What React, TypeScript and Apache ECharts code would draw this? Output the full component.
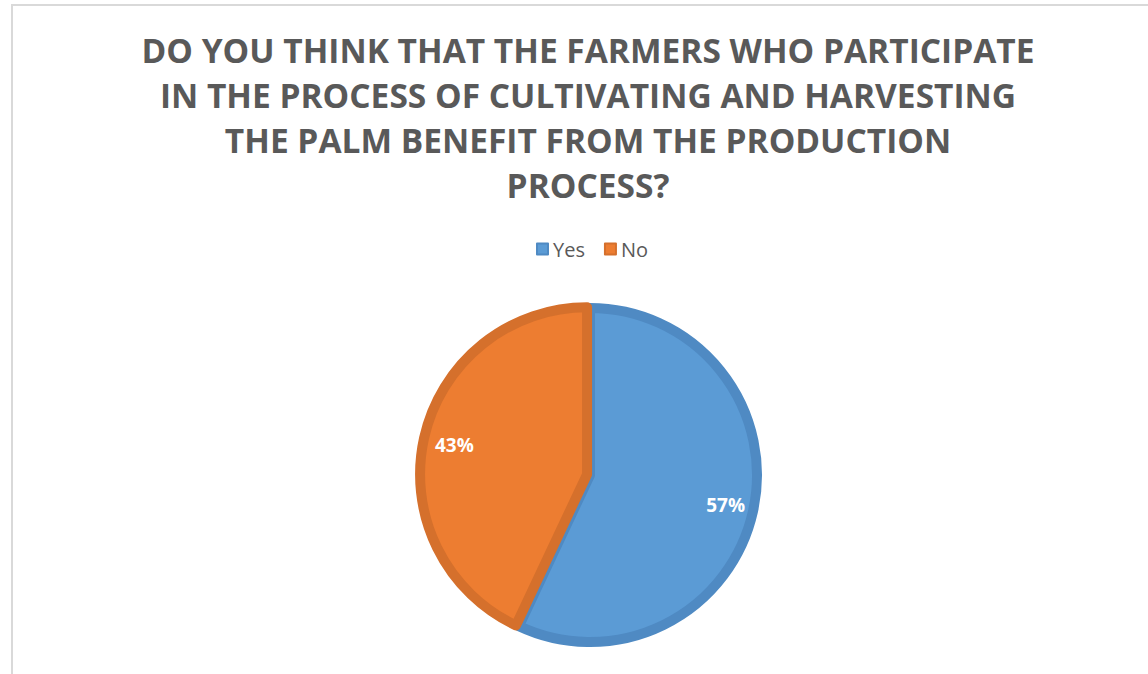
import React, { useEffect, useRef } from "react";
import * as echarts from "echarts";

const titleLines = [
  "DO YOU THINK THAT THE FARMERS WHO PARTICIPATE",
  "IN THE PROCESS OF CULTIVATING AND HARVESTING",
  "THE PALM BENEFIT FROM THE PRODUCTION",
  "PROCESS?",
];
const categories = ["Yes", "No"];
const values = [57, 43];
const fillColors = ["#5B9BD5", "#ED7D31"];
const borderColors = ["#4F8AC3", "#D5702C"];

export default function App() {
  const ref = useRef<HTMLDivElement>(null);
  useEffect(() => {
    const chart = echarts.init(ref.current!, null, { renderer: "svg" });
    const data = categories.map((name, i) => ({
      name,
      value: values[i],
      selected: name === "No",
      itemStyle: { color: fillColors[i], borderColor: borderColors[i], borderWidth: 10 },
    }));
    chart.setOption({
      animation: false,
      backgroundColor: "#FFFFFF",
      graphic: [
        {
          type: "rect",
          shape: { x: 12, y: 5, width: 1200, height: 720 },
          style: { fill: "none", stroke: "#D9D9D9", lineWidth: 2 },
          silent: true,
        },
      ],
      title: {
        text: titleLines.join("\n"),
        left: 583,
        textAlign: "center",
        top: 22,
        textStyle: {
          fontFamily: "Open Sans",
          fontWeight: "bold",
          fontSize: 33.5,
          lineHeight: 45,
          color: "#595959",
        },
      },
      legend: {
        data: categories,
        top: 234,
        left: 531,
        icon: "rect",
        itemWidth: 11,
        itemHeight: 11,
        itemGap: 19,
        textStyle: { fontFamily: "Open Sans", fontSize: 20, color: "#595959" },
      },
      series: [
        {
          type: "pie",
          center: [590, 475],
          radius: [0, 167],
          startAngle: 90,
          clockwise: true,
          selectedMode: "single",
          selectedOffset: 3,
          label: { show: false },
          labelLine: { show: false },
          data,
        },
        {
          type: "pie",
          z: 5,
          center: [590, 475],
          radius: [0, 272],
          startAngle: 90,
          clockwise: true,
          silent: true,
          avoidLabelOverlap: false,
          minShowLabelAngle: 0,
          itemStyle: { color: "rgba(255,255,255,0)", borderWidth: 0 },
          label: {
            show: true,
            position: "inner",
            formatter: "{c}%",
            fontFamily: "Open Sans",
            fontWeight: "bold",
            fontSize: 19,
            color: "#FFFFFF",
          },
          labelLine: { show: false },
          data: categories.map((name, i) => ({ name, value: values[i] })),
        },
      ],
    });
    return () => chart.dispose();
  }, []);
  return (
    <div
      ref={ref}
      style={{ position: "fixed", left: 0, top: 0, width: 1148, height: 674 }}
    />
  );
}
